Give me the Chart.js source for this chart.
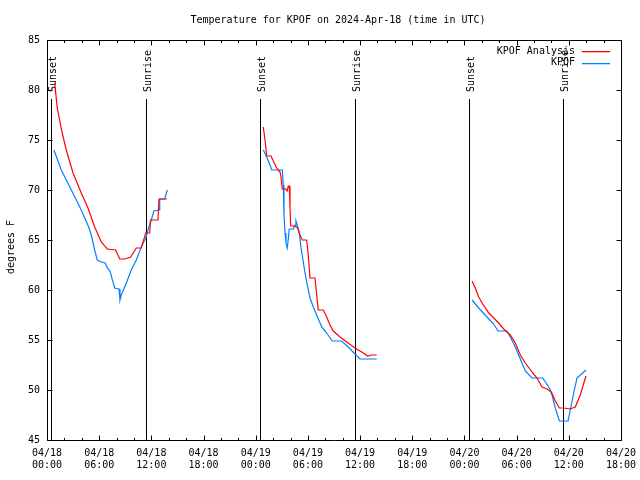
<!DOCTYPE html>
<html>
<head>
<meta charset="utf-8">
<script src="https://cdn.jsdelivr.net/npm/chart.js@4/dist/chart.umd.min.js"></script>
<style>
html,body{margin:0;padding:0;background:#fff;}
canvas{display:block;}
</style>
</head>
<body>
<canvas id="c" width="640" height="480"></canvas>
<script>
// ---- data (x = hours since 2024-04-18 00:00 UTC; null temp = gap) ----
const titleText = 'Temperature for KPOF on 2024-Apr-18 (time in UTC)';
const yAxisTitle = 'degrees F';
const seriesNames = ['KPOF Analysis', 'KPOF'];
const seriesColors = ['#ff0000', '#0080ff'];

const analysisHours = [0.885,1.18,1.72,2.22,2.99,3.94,4.71,5.48,6.24,6.93,7.90,8.36,8.93,9.62,10.27,10.84,11.35,11.81,11.90,12.76,12.88,13.76,
  18,
  24.87,25.07,25.26,25.76,26.02,26.41,26.79,26.91,27.06,27.45,27.60,27.75,27.86,27.94,28.02,28.52,28.83,29.09,29.35,29.86,30.04,30.24,30.82,31.01,31.19,31.77,32.16,32.54,32.92,33.69,34.46,35.41,36.19,36.87,37.34,37.91,
  42,
  48.87,49.25,49.64,50.10,50.79,51.36,51.94,52.51,53.27,53.85,54.42,55.00,55.77,56.34,56.92,57.49,57.99,58.45,58.91,59.41,60.17,60.74,61.32,61.97];
const analysisTemps = [80.7,78.2,75.8,74.0,71.7,69.7,68.2,66.3,64.8,64.1,64.0,63.1,63.1,63.3,64.2,64.2,65.7,65.7,67.0,67.0,69.1,69.1,
  null,
  76.3,75.0,73.4,73.4,72.9,72.2,71.8,71.3,70.1,70.1,69.9,70.4,70.4,68.3,66.4,66.4,66.2,65.5,65.0,65.0,63.5,61.2,61.2,59.5,58.0,58.0,57.3,56.5,55.9,55.3,54.8,54.2,53.8,53.4,53.5,53.5,
  null,
  60.9,60.2,59.3,58.6,57.7,57.2,56.7,56.1,55.5,54.7,53.5,52.7,51.8,51.2,50.3,50.1,49.8,48.9,48.2,48.2,48.1,48.3,49.5,51.4];

const obsHours = [0.80,1.64,2.79,3.94,4.79,5.09,5.48,5.78,6.24,6.70,6.93,7.24,7.78,8.28,8.39,8.54,9.12,9.69,10.27,10.84,11.35,11.61,11.99,12.30,12.88,12.96,13.53,13.83,
  18,
  24.87,25.26,25.64,25.84,27.06,27.17,27.25,27.37,27.48,27.63,27.75,27.86,28.32,28.52,28.63,28.83,29.01,29.21,29.47,29.67,29.93,30.24,30.62,31.01,31.59,32.16,32.80,33.88,34.64,35.41,35.99,37.91,
  42,
  48.87,49.64,50.59,51.36,51.86,52.89,53.27,53.85,54.42,55.00,55.77,57.00,57.76,58.07,58.45,58.91,59.91,60.17,60.56,60.94,61.97];
const obsTemps = [74.0,72.0,70.0,68.0,66.3,65.5,64.0,63.0,62.8,62.7,62.2,61.9,60.2,60.1,59.0,59.5,60.7,62.0,63.0,64.3,65.2,66.0,67.0,67.9,68.0,69.1,69.1,70.0,
  null,
  74.0,73.3,72.5,72.0,72.0,70.5,67.5,65.7,64.7,64.2,65.2,66.1,66.1,66.5,66.9,66.3,65.7,64.2,62.8,61.7,60.5,59.2,58.3,57.5,56.3,55.7,54.9,54.9,54.3,53.6,53.1,53.1,
  null,
  59.0,58.2,57.3,56.6,55.9,55.9,55.3,54.3,53.1,51.9,51.2,51.2,50.2,49.5,48.2,46.9,46.9,48.0,49.7,51.2,52.0];

const sunHours = [0.49, 11.42, 24.49, 35.41, 48.56, 59.37];
const sunLabels = ['Sunset', 'Sunrise', 'Sunset', 'Sunrise', 'Sunset', 'Sunrise'];

const xTickLabels = [
  ['04/18','00:00'],['04/18','06:00'],['04/18','12:00'],['04/18','18:00'],
  ['04/19','00:00'],['04/19','06:00'],['04/19','12:00'],['04/19','18:00'],
  ['04/20','00:00'],['04/20','06:00'],['04/20','12:00'],['04/20','18:00']
];
const xMin = 0, xMax = 66, xMajor = 6, xMinor = 2;
const yMin = 45, yMax = 85, yStep = 5;

// ---- build ----
const FONT = "'DejaVu Sans Mono', 'Liberation Mono', monospace";
const toPts = (xs, ys) => xs.map((h, i) => ({x: h, y: ys[i]}));

const overlay = {
  id: 'overlay',
  beforeDatasetsDraw(chart) {
    const {ctx, chartArea: a, scales: {x}} = chart;
    ctx.save();
    ctx.strokeStyle = '#000';
    ctx.lineWidth = 1;
    const topY = a.top + (a.bottom - a.top) * 0.1475;
    sunHours.forEach((h, i) => {
      const px = Math.round(x.getPixelForValue(h)) + 0.5;
      ctx.beginPath();
      ctx.moveTo(px, a.bottom);
      ctx.lineTo(px, Math.round(topY));
      ctx.stroke();
      ctx.save();
      ctx.translate(px + 4, Math.round(topY) - 7);
      ctx.rotate(-Math.PI / 2);
      ctx.fillStyle = '#000';
      ctx.font = '10px ' + FONT;
      ctx.textAlign = 'left';
      ctx.textBaseline = 'alphabetic';
      ctx.fillText(sunLabels[i], 0, 0);
      ctx.restore();
    });
    ctx.restore();
  },
  afterDraw(chart) {
    const {ctx, chartArea: a, scales: {x, y}} = chart;
    ctx.save();
    ctx.strokeStyle = '#000';
    ctx.lineWidth = 1;
    const L = Math.round(a.left) + 0.5, R = Math.round(a.right) + 0.5;
    const T = Math.round(a.top) + 0.5, B = Math.round(a.bottom) + 0.5;
    ctx.beginPath();
    ctx.rect(L, T, R - L, B - T);
    ctx.stroke();
    // x ticks (inward, mirrored)
    ctx.beginPath();
    for (let h = xMin; h <= xMax; h += xMinor) {
      const px = Math.round(x.getPixelForValue(h)) + 0.5;
      const len = (h % xMajor === 0) ? 5 : 2.5;
      ctx.moveTo(px, B); ctx.lineTo(px, B - len);
      ctx.moveTo(px, T); ctx.lineTo(px, T + len);
    }
    // y ticks
    for (let v = yMin; v <= yMax; v += yStep) {
      const py = Math.round(y.getPixelForValue(v)) + 0.5;
      ctx.moveTo(L, py); ctx.lineTo(L + 5, py);
      ctx.moveTo(R, py); ctx.lineTo(R - 5, py);
    }
    ctx.stroke();
    // title
    ctx.fillStyle = '#000';
    ctx.font = '10px ' + FONT;
    ctx.textAlign = 'center';
    ctx.textBaseline = 'middle';
    ctx.fillText(titleText, (a.left + a.right) / 2 + 4, 20);
    // y axis title
    ctx.save();
    ctx.translate(11, (a.top + a.bottom) / 2 + 7);
    ctx.rotate(-Math.PI / 2);
    ctx.fillText(yAxisTitle, 0, 0);
    ctx.restore();
    // legend
    ctx.textAlign = 'right';
    seriesNames.forEach((n, i) => {
      const ly = a.top + 11 + i * 11.5;
      ctx.fillStyle = '#000';
      ctx.fillText(n, a.right - 46, ly);
      ctx.fillStyle = seriesColors[i];
      ctx.fillRect(Math.round(a.right - 39), Math.round(ly), 28, 1.3);
    });
    ctx.restore();
  }
};

new Chart(document.getElementById('c'), {
  type: 'line',
  data: {
    datasets: [
      {label: seriesNames[0], data: toPts(analysisHours, analysisTemps), borderColor: seriesColors[0], borderWidth: 1.2, pointRadius: 0, tension: 0, spanGaps: false},
      {label: seriesNames[1], data: toPts(obsHours, obsTemps), borderColor: seriesColors[1], borderWidth: 1.2, pointRadius: 0, tension: 0, spanGaps: false}
    ]
  },
  options: {
    responsive: false,
    animation: false,
    layout: {padding: {top: 40, right: 19, left: 0, bottom: 0}},
    plugins: {legend: {display: false}, title: {display: false}, tooltip: {enabled: false}},
    scales: {
      x: {
        type: 'linear', min: xMin, max: xMax,
        afterFit(s) { s.height = 40; s.paddingLeft = 0; s.paddingRight = 0; },
        grid: {display: false, drawTicks: false},
        border: {display: false},
        ticks: {
          stepSize: xMajor, autoSkip: false, maxRotation: 0, padding: 8,
          color: '#000', font: {family: FONT, size: 10, lineHeight: 1.15},
          callback: (v) => xTickLabels[Math.round((v - xMin) / xMajor)]
        }
      },
      y: {
        min: yMin, max: yMax,
        afterFit(s) { s.width = 47; s.paddingTop = 0; s.paddingBottom = 0; },
        grid: {display: false, drawTicks: false},
        border: {display: false},
        ticks: {stepSize: yStep, padding: 7, color: '#000', font: {family: FONT, size: 10}}
      }
    }
  },
  plugins: [overlay]
});
</script>
</body>
</html>
